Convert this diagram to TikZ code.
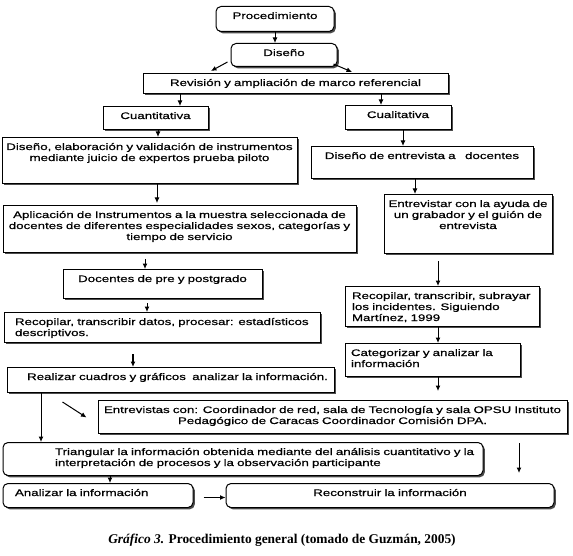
\documentclass[tikz,border=0pt]{standalone}
\usepackage{fontspec}
\setmainfont{Liberation Serif}
\newfontfamily\boxfont[FakeStretch=1.4,FakeBold=0.6]{Liberation Sans}
\usetikzlibrary{shadows,arrows.meta}

\tikzset{
  blk/.style={draw, line width=1pt, fill=white, anchor=north,
    drop shadow={shadow xshift=1.8pt, shadow yshift=-1.8pt, fill=black!70, opacity=1},
    font=\boxfont\fontsize{9.5}{11}\selectfont, inner xsep=6pt, inner ysep=0pt, text height=12.5pt},
  rblk/.style={blk, rounded corners=5pt},
  arr/.style={-{Latex[length=5.5pt,width=5pt]}, line width=1pt},
}

\begin{document}
\begin{tikzpicture}[x=1pt, y=-1pt]
  \useasboundingbox (0,0) rectangle (573,556);

  \node[rblk, text width=106pt, text depth=12.5pt, align=center] (proc) at (275,6) {Procedimiento};
  \node[rblk, text width=94pt, text depth=10.5pt, align=center] (dis) at (284,43) {Diseño};
  \node[blk, text width=293pt, text depth=7.5pt, align=center] (rev) at (295.5,73) {Revisión y ampliación de marco referencial};
  \node[blk, text width=93pt, text depth=10.5pt, align=center] (cuan) at (155.5,106) {Cuantitativa};
  \node[blk, text width=94pt, text depth=11.5pt, align=center] (cual) at (398,105) {Cualitativa};
  \node[blk, inner xsep=2pt, text width=291pt, text depth=33.5pt, align=center] (del) at (149.5,137)
    {Diseño, elaboración y validación de instrumentos\\ mediante juicio de expertos prueba piloto};
  \node[blk, text width=210pt, text depth=19.5pt, align=center] (den) at (422,146) {Diseño de entrevista a\ \ \ docentes};
  \node[blk, inner xsep=3pt, text width=347pt, text depth=34.5pt, align=center] (apl) at (179.5,205)
    {Aplicación de Instrumentos a la muestra seleccionada de\\ docentes de diferentes especialidades sexos, categorías y\\ tiempo de servicio};
  \node[blk, inner xsep=2pt, text width=164pt, text depth=46.5pt, align=center] (ent) at (468,194)
    {Entrevistar con la ayuda de\\ un grabador y el guión de\\ entrevista};
  \node[blk, text width=187pt, text depth=16.5pt, align=center] (doc) at (162.5,269) {Docentes de pre y postgrado};
  \node[blk, text width=304pt, text depth=17.5pt, align=left] (recl) at (162,312)
    {\hspace*{5pt}Recopilar, transcribir datos, procesar: estadísticos\\ \hspace*{5pt}descriptivos.};
  \node[blk, inner xsep=2pt, text width=190pt, text depth=27.5pt, align=left] (recr) at (442,286)
    {\hspace*{5pt}Recopilar, transcribir, subrayar\\ \hspace*{5pt}los incidentes. Siguiendo\\ \hspace*{5pt}Martínez, 1999};
  \node[blk, text width=163pt, text depth=20.5pt, align=left] (cat) at (432.5,343)
    {Categorizar y analizar la\\ información};
  \node[blk, text width=315pt, text depth=12.5pt, align=right] (rea) at (170.5,367)
    {Realizar cuadros y gráficos\ \ analizar la información.};
  \node[blk, inner xsep=3pt, text width=463pt, text depth=20.5pt, align=center] (evs) at (332.5,400)
    {Entrevistas con: Coordinador de red, sala de Tecnología y sala OPSU Instituto\\ Pedagógico de Caracas Coordinador Comisión DPA.};
  \node[rblk, text width=468pt, text depth=20.5pt, align=left] (tri) at (243,442)
    {\hspace*{46pt}Triangular la información obtenida mediante del análisis cuantitativo y la\\ \hspace*{46pt}interpretación de procesos y la observación participante};
  \node[rblk, text width=178pt, text depth=11.5pt, align=left] (ana) at (98,483) {\hspace*{6pt}Analizar la información};
  \node[rblk, text width=316pt, text depth=11.5pt, align=center] (rec) at (390,483) {Reconstruir la información};

  \node[font=\bfseries\fontsize{13.4}{15}\selectfont] (cap) at (282,540)
    {\textit{Gráfico 3.} Procedimiento general (tomado de Guzmán, 2005)};

  \draw[arr] (proc.south) -- (proc.south |- dis.north);
  \draw[arr] ([shift={(-3,-5)}]dis.south west) -- ([shift={(-84.5,-2)}]rev.north);
  \draw[arr] ([shift={(-4,-3)}]dis.south east) -- ([shift={(56.5,-1)}]rev.north);
  \draw[arr] ([xshift=24.5pt]cuan.north |- rev.south) -- ([xshift=24.5pt]cuan.north);
  \draw[arr] ([xshift=-17pt]cual.north |- rev.south) -- ([xshift=-17pt]cual.north);
  \draw[arr] ([xshift=2.5pt]cuan.south) -- ([xshift=2.5pt]cuan.south |- del.north);
  \draw[arr] ([xshift=5pt]cual.south) -- ([xshift=5pt]cual.south |- den.north);
  \draw[arr, shorten >=2pt] ([xshift=7.5pt]del.south) -- ([xshift=7.5pt]del.south |- apl.north);
  \draw[arr] ([xshift=-7pt]den.south) -- ([xshift=-7pt]den.south |- ent.north);
  \draw[arr, shorten <=6pt] ([xshift=-17.5pt]doc.north |- apl.south) -- ([xshift=-17.5pt]doc.north);
  \draw[arr, shorten <=4pt] ([xshift=-15.5pt]doc.south) -- ([xshift=-15.5pt]doc.south |- recl.north);
  \draw[arr, line width=2.2pt, shorten <=11pt] ([xshift=-29pt]recl.south) -- ([xshift=-29pt]recl.south |- rea.north);
  \draw[arr] ([xshift=-129.5pt]rea.south) -- ([xshift=-129.5pt]rea.south |- tri.north);
  \draw[arr] ([shift={(56,9)}]rea.south west) -- ([shift={(-11,0.5)}]evs.west);
  \draw[arr, shorten <=7pt] ([xshift=-4pt]recr.north |- ent.south) -- ([xshift=-4pt]recr.north);
  \draw[arr] ([xshift=-4pt]recr.south) -- ([xshift=-4pt]recr.south |- cat.north);
  \draw[arr, shorten >=9pt] ([xshift=5.5pt]cat.south) -- ([xshift=5.5pt]cat.south |- evs.north);
  \draw[arr, shorten <=9pt, shorten >=10pt] ([xshift=186.5pt]evs.south) -- ([xshift=129pt]rec.north);
  \draw[arr] ([xshift=12pt]ana.north |- tri.south) -- ([xshift=12pt]ana.north);
  \draw[arr, shorten <=10pt] ([yshift=-2pt]ana.east) -- ([yshift=-2pt]ana.east -| rec.west);
\end{tikzpicture}
\end{document}
